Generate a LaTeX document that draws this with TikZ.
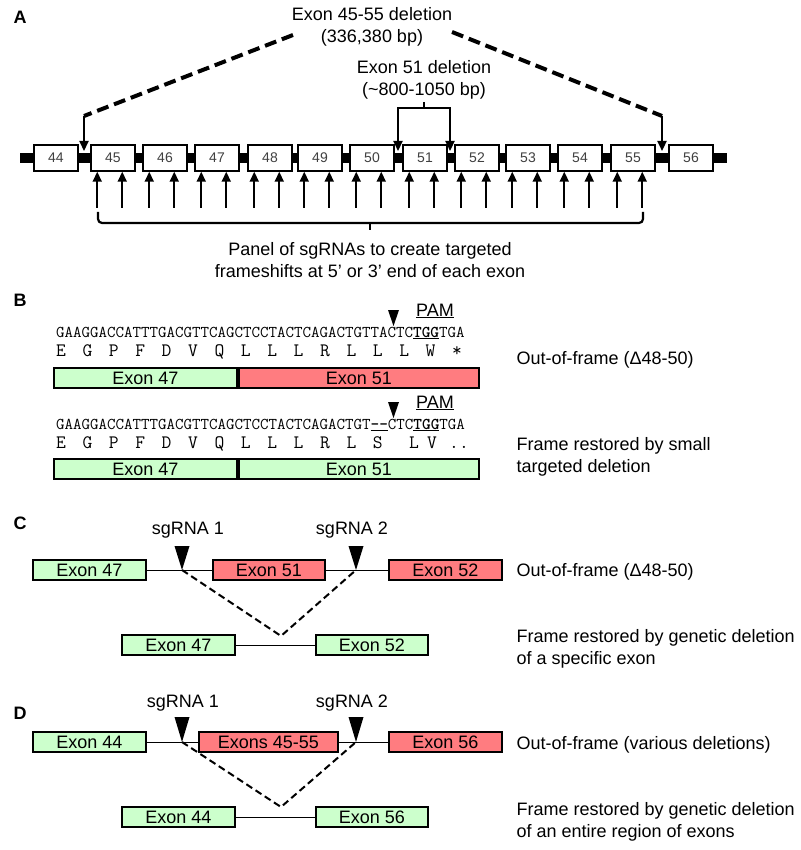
\documentclass[tikz,border=0pt]{standalone}
\usepackage{fontspec}
\setmainfont{Liberation Sans}
\usepackage{tikz}
\usetikzlibrary{arrows.meta,positioning}
\tikzset{>={Triangle[width=9pt,length=10pt]}}
\definecolor{exgreen}{RGB}{204,255,204}
\definecolor{exred}{RGB}{255,124,128}

\begin{document}
\begin{tikzpicture}[x=1pt,y=-1pt,
                    lbl/.style={font=\fontsize{18}{22}\selectfont},
                    panel/.style={font=\fontsize{18}{22}\selectfont\bfseries},
                    exon/.style={draw, fill=white, line width=1.5, minimum width=44, minimum height=26,
                                 inner sep=0, font=\fontsize{14}{14}\selectfont, text=black!75},
                    gbox/.style={draw, fill=exgreen, line width=1.3, minimum height=20, inner sep=0,
                                 font=\fontsize{18}{18}\selectfont},
                    rbox/.style={gbox, fill=exred},
                    uparrow/.style={line width=2.2, <-},
                    delarrow/.style={line width=2.2, ->},
                    deldash/.style={line width=4, dash pattern=on 12pt off 6pt},
                    intron/.style={line width=1},
                    splice/.style={line width=2, dash pattern=on 7pt off 4pt},
                    seq/.style={font=\fontsize{16.5}{18}\selectfont\ttfamily, inner sep=0,
                                text height=10pt, text depth=2pt},
                    aa/.style={font=\fontsize{19}{19}\selectfont\ttfamily, inner sep=0, anchor=base,
                               text height=12pt, text depth=0pt},
                   ]

\useasboundingbox (0,0) rectangle (800,850);

% A: exon map
\node[panel] (pA) at (20,17) {A};

\draw[line width=10] (20,158) -- (727,158);
\foreach \n/\x in {44/56,45/113,46/165,47/217,48/270,49/320,50/372,51/425,52/477,53/528,54/580,55/633,56/691}
  \node[exon] (e\n) at (\x,158) {\n};

\foreach \n in {45,...,55} {
  \draw[uparrow] ([xshift=7]e\n.south west) -- ++(0,36);
  \draw[uparrow] ([xshift=32]e\n.south west) -- ++(0,36);
}

\draw[line width=2.2, rounded corners=4] (98,212) -- (98,223) -- (643,223) -- (643,212);
\draw[line width=2.2] (370,223) -- (370,230);
\node[lbl, align=center] (sgpanel) at (370,260) {Panel of sgRNAs to create targeted\\frameshifts at 5’ or 3’ end of each exon};

\node[lbl, align=center] (del4555) at (372,27) {Exon 45-55 deletion\\(336,380 bp)};
\coordinate (cutL) at (84,116);
\coordinate (cutR) at (662,116);
\draw[deldash] (293,35) -- (cutL);
\draw[deldash] (452,32) -- (cutR);
\draw[delarrow] (cutL) -- (84,151);
\draw[delarrow] (cutR) -- (662,151);

\node[lbl, align=center] (del51) at (424,80) {Exon 51 deletion\\(\textasciitilde800-1050 bp)};
\coordinate (brk51) at (424,108);
\draw[line width=2.2] (424,102) -- (brk51);
\draw[delarrow] (brk51) -| (398,151);
\draw[delarrow] (brk51) -| (450,151);

% B: sequences
\node[panel] (pB) at (20,300) {B};

\node[lbl] (pam1) at (435,311) {\underline{PAM}};
\fill (388,310) -- (399,310) -- (393.5,326) -- cycle;
\node[seq, anchor=base west] (seq1) at (56,337) {GAAGGACCATTTGACGTTCAGCTCCTACTCAGACTGTTACTC\underline{\textbf{TGG}}TGA};
\foreach \a [count=\i from 0] in {E,G,P,F,D,V,Q,L,L,L,R,L,L,L,W,*}
  \node[aa] (a\i) at (61+26.4*\i,356) {\a};
\node[gbox, minimum width=183] (b47) at (145.5,378) {Exon 47};
\node[rbox, minimum width=240] (b51) at (359,378) {Exon 51};
\node[lbl, anchor=west] (oofB) at (513,360) {Out-of-frame (Δ48-50)};

\node[lbl] (pam2) at (435,403) {\underline{PAM}};
\fill (388,402) -- (399,402) -- (393.5,418) -- cycle;
\node[seq, anchor=base west] (seq2) at (56,429) {GAAGGACCATTTGACGTTCAGCTCCTACTCAGACTGT\underline{\textbf{-{}-}}CTC\underline{\textbf{TGG}}TGA};
\foreach \a [count=\i from 0] in {E,G,P,F,D,V,Q,L,L,L,R,L,S}
  \node[aa] (b\i) at (61+26.4*\i,448) {\a};
\node[aa] (b13) at (414,448) {L};
\node[aa] (b14) at (432,448) {V};
\node[aa] (b15) at (459,448) {..};
\node[gbox, minimum width=183] (r47) at (145.5,469) {Exon 47};
\node[gbox, minimum width=240] (r51) at (359,469) {Exon 51};
\node[lbl, anchor=west, align=left] (fixB) at (513,457) {Frame restored by small\\targeted deletion};

% C: exon 51 removal
\node[panel] (pC) at (20,523) {C};

\node[lbl] (sgC1) at (188,530) {sgRNA 1};
\node[lbl] (sgC2) at (352,530) {sgRNA 2};
\node[gbox, minimum width=113] (c47) at (89.5,570) {Exon 47};
\node[rbox, minimum width=112] (c51) at (269,570) {Exon 51};
\node[rbox, minimum width=113] (c52) at (445.5,570) {Exon 52};
\draw[intron] (c47.east) -- (c51.west);
\draw[intron] (c51.east) -- (c52.west);
\coordinate (cutC1) at (182,570);
\coordinate (cutC2) at (356,570);
\fill (174.5,546) -- (189.5,546) -- (cutC1) -- cycle;
\fill (348.5,546) -- (363.5,546) -- (cutC2) -- cycle;
\draw[splice] (cutC1) -- (281,636) -- (cutC2);
\node[gbox, minimum width=113] (d47) at (178.5,645) {Exon 47};
\node[gbox, minimum width=112] (d52) at (372,645) {Exon 52};
\draw[intron] (d47.east) -- (d52.west);
\node[lbl, anchor=west] (oofC) at (513,572) {Out-of-frame (Δ48-50)};
\node[lbl, anchor=west, align=left] (fixC) at (513,649) {Frame restored by genetic deletion\\of a specific exon};

% D: exons 45-55 removal
\node[panel] (pD) at (20,713) {D};

\node[lbl] (sgD1) at (183,703) {sgRNA 1};
\node[lbl] (sgD2) at (352,703) {sgRNA 2};
\node[gbox, minimum width=113] (f44) at (89.5,742) {Exon 44};
\node[rbox, minimum width=139] (f4555) at (268.5,742) {Exons 45-55};
\node[rbox, minimum width=113] (f56) at (445.5,742) {Exon 56};
\draw[intron] (f44.east) -- (f4555.west);
\draw[intron] (f4555.east) -- (f56.west);
\coordinate (cutD1) at (182,742);
\coordinate (cutD2) at (356,742);
\fill (174.5,717) -- (189.5,717) -- (cutD1) -- cycle;
\fill (348.5,717) -- (363.5,717) -- (cutD2) -- cycle;
\draw[splice] (cutD1) -- (281,807) -- (cutD2);
\node[gbox, minimum width=113] (g44) at (178.5,817) {Exon 44};
\node[gbox, minimum width=112] (g56) at (372,817) {Exon 56};
\draw[intron] (g44.east) -- (g56.west);
\node[lbl, anchor=west] (oofD) at (513,745) {Out-of-frame (various deletions)};
\node[lbl, anchor=west, align=left] (fixD) at (513,822) {Frame restored by genetic deletion\\of an entire region of exons};

\end{tikzpicture}
\end{document}
